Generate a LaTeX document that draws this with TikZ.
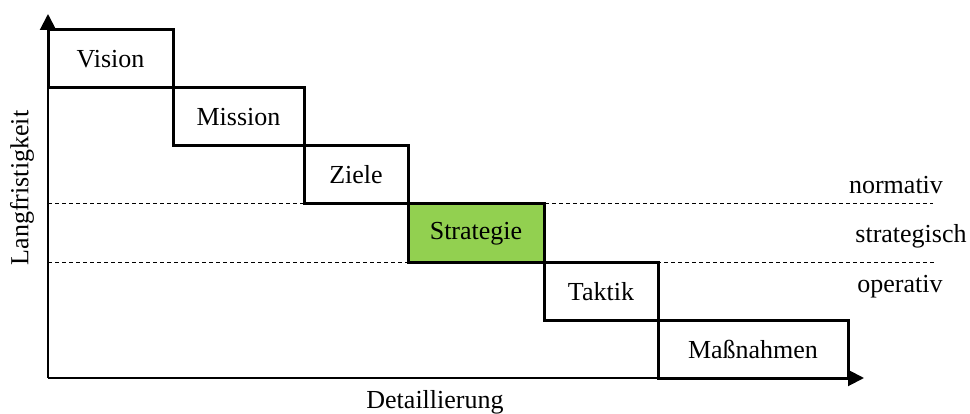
\documentclass[tikz,border=0pt]{standalone}
\usepackage{fontspec}
\setmainfont{Liberation Serif}
\usetikzlibrary{arrows.meta}
\definecolor{stratgreen}{HTML}{92D050}
\begin{document}
\begin{tikzpicture}[x=1pt,y=-1pt,
  stage/.style={draw=black, line width=3pt, inner sep=0pt, outer sep=0pt,
    anchor=north west, font=\fontsize{26}{30}\selectfont},
  level/.style={font=\fontsize{26}{30}\selectfont, inner sep=0pt},
  axis/.style={line width=2pt, -{Triangle[length=16pt,width=16pt]}},
  divider/.style={line width=1pt, dash pattern=on 4pt off 3pt}
]
% page frame
\path[use as bounding box] (0,0) rectangle (970,414);

% axis corner and tips
\coordinate (origin) at (48,378);
\coordinate (ytip) at (48,14);
\coordinate (xtip) at (864,378);

% level dividers
\coordinate (n0) at (48,204);
\coordinate (n1) at (933,204);
\coordinate (o0) at (48,263);
\coordinate (o1) at (935,263);
\draw[divider] (n0) -- (n1);
\draw[divider] (o0) -- (o1);

% axes
\draw[axis] (origin) -- (ytip);
\draw[axis] (origin) -- (xtip);

% stages
\node[stage, minimum width=125pt, minimum height=58pt] (vision) at (48,30) {Vision};
\node[stage, minimum width=131pt, minimum height=58pt] (mission) at (173,88) {Mission};
\node[stage, minimum width=104pt, minimum height=58pt] (ziele) at (304,146) {Ziele};
\node[stage, fill=stratgreen, minimum width=136pt, minimum height=59pt] (strategie) at (408,204) {Strategie};
\node[stage, minimum width=114pt, minimum height=58pt] (taktik) at (544,263) {Taktik};
\node[stage, minimum width=190pt, minimum height=57pt] (massnahmen) at (658,321) {Maßnahmen};

% level labels
\node[level] (normativ) at (896,185) {normativ};
\node[level] (strategisch) at (911,236) {strategisch};
\node[level] (operativ) at (900,287) {operativ};

% axis titles
\node[level, rotate=90] (ylabel) at (22,188) {Langfristigkeit};
\node[level] (xlabel) at (435,402) {Detaillierung};
\end{tikzpicture}
\end{document}
